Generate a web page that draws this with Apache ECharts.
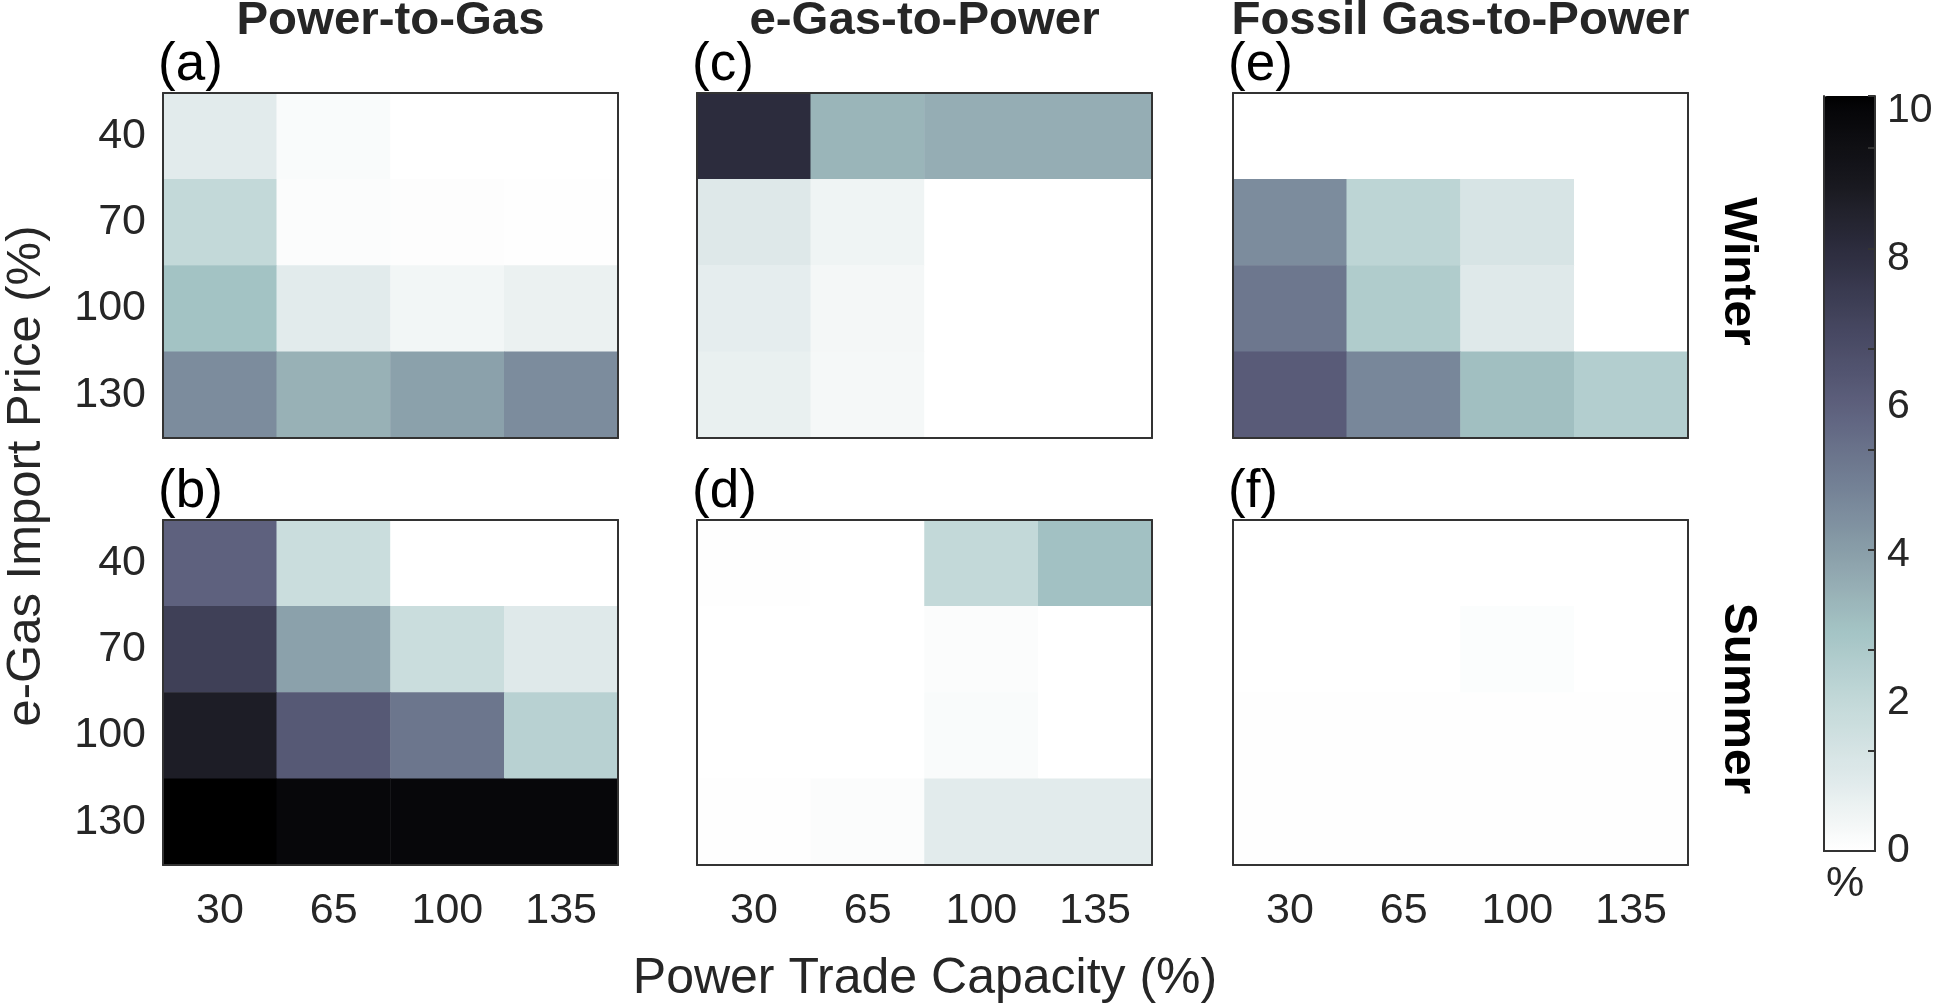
<!DOCTYPE html>
<html>
<head>
<meta charset="utf-8">
<script src="https://cdn.jsdelivr.net/npm/echarts@6/dist/echarts.min.js"></script>
<style>
html,body{margin:0;padding:0;background:#fff;}
#chart{width:1935px;height:1003px;}
</style>
</head>
<body>
<div id="chart"></div>
<script>
// ---------------- DATA ----------------
const capacities = ['30', '65', '100', '135'];      // Power Trade Capacity (%)
const prices = ['40', '70', '100', '130'];          // e-Gas Import Price (%)
const columnTitles = ['Power-to-Gas', 'e-Gas-to-Power', 'Fossil Gas-to-Power'];
const seasons = ['Winter', 'Summer'];
const panelLetters = ['(a)', '(b)', '(c)', '(d)', '(e)', '(f)'];
const colorbarLabels = [0, 2, 4, 6, 8, 10];
const colorMax = 10.2;

// rows = prices (40,70,100,130), columns = capacities (30,65,100,135)
const p2gWinter = [
  [0.9, 0.2, 0, 0],
  [2.0, 0.15, 0.08, 0.05],
  [3.0, 0.9, 0.4, 0.65],
  [4.6, 3.5, 3.95, 4.6]
];
const p2gSummer = [
  [5.95, 1.75, 0, 0],
  [7.35, 3.95, 1.75, 1.0],
  [8.8, 6.3, 5.3, 2.35],
  [10.2, 9.95, 9.95, 9.95]
];
const e2pWinter = [
  [8.15, 3.4, 3.6, 3.6],
  [1.05, 0.5, 0, 0],
  [0.8, 0.35, 0, 0],
  [0.7, 0.3, 0, 0]
];
const e2pSummer = [
  [0.05, 0, 2.0, 3.05],
  [0, 0, 0.15, 0],
  [0, 0, 0.2, 0],
  [0.05, 0.15, 0.9, 0.9]
];
const fossilWinter = [
  [0, 0, 0, 0],
  [4.6, 2.2, 1.3, 0],
  [5.25, 2.6, 1.0, 0],
  [6.2, 4.75, 3.1, 2.5]
];
const fossilSummer = [
  [0, 0, 0, 0],
  [0, 0, 0.12, 0],
  [0.04, 0.04, 0.05, 0.03],
  [0.04, 0.04, 0.04, 0.03]
];

// panel order: a,b,c,d,e,f  (column-major: col 0 winter, col 0 summer, ...)
const panelData = [p2gWinter, p2gSummer, e2pWinter, e2pSummer, fossilWinter, fossilSummer];

// ---------------- STYLE ----------------
const FONT = "'Liberation Sans', Arial, Helvetica, sans-serif";
const TXT = '#262626';
const LINE = '#333333';
const colLeft = [163, 697, 1233];
const rowTop = [93, 520];
const PW = 455, PH = 345;
const CB = { left: 1824, top: 96, width: 51, height: 755 };

// colormap stops (value -> colour)
const cmapStops = [
  [0, '#ffffff'], [0.5, '#eff4f4'], [1, '#dfe9ea'], [2, '#c3d9d9'], [3, '#a3c3c4'],
  [3.5, '#98b1b6'], [4, '#8a9faa'], [5, '#727f94'], [6, '#5d607d'], [7, '#474862'],
  [8, '#2f2f42'], [9, '#19191f'], [10, '#060609'], [10.2, '#000000']
];
function hex2rgb(h) { return [1, 3, 5].map(i => parseInt(h.substr(i, 2), 16)); }
function cmap(v) {
  for (let i = 1; i < cmapStops.length; i++) {
    const [v0, c0] = cmapStops[i - 1], [v1, c1] = cmapStops[i];
    if (v <= v1) {
      const t = (v - v0) / (v1 - v0);
      const a = hex2rgb(c0), b = hex2rgb(c1);
      return 'rgb(' + a.map((x, k) => Math.round(x + (b[k] - x) * t)).join(',') + ')';
    }
  }
  return cmapStops[cmapStops.length - 1][1];
}
const vmColors = [];
for (let i = 0; i <= 102; i++) vmColors.push(cmap(colorMax * i / 102));

// ---------------- BUILD ----------------
const grid = [], xAxis = [], yAxis = [], series = [];
const lineStyle = { show: true, lineStyle: { color: LINE, width: 2 } };

panelData.forEach((vals, p) => {
  const col = Math.floor(p / 2), row = p % 2;
  grid.push({ left: colLeft[col], top: rowTop[row], width: PW, height: PH, outerBoundsMode: 'none' });
  const xi = xAxis.length, yi = yAxis.length;
  xAxis.push({
    gridIndex: p, type: 'category', data: capacities, position: 'bottom', z: 10,
    axisLine: lineStyle, axisTick: { show: false }, splitLine: { show: false },
    axisLabel: { show: row === 1, fontSize: 43, fontFamily: FONT, color: TXT, margin: 25 }
  });
  xAxis.push({
    gridIndex: p, type: 'category', data: capacities, position: 'top', z: 10,
    axisLine: lineStyle, axisTick: { show: false }, splitLine: { show: false }, axisLabel: { show: false }
  });
  yAxis.push({
    gridIndex: p, type: 'category', data: prices, inverse: true, position: 'left', z: 10,
    axisLine: lineStyle, axisTick: { show: false }, splitLine: { show: false },
    axisLabel: { show: col === 0, fontSize: 43, fontFamily: FONT, color: TXT, margin: 17 }
  });
  yAxis.push({
    gridIndex: p, type: 'category', data: prices, inverse: true, position: 'right', z: 10,
    axisLine: lineStyle, axisTick: { show: false }, splitLine: { show: false }, axisLabel: { show: false }
  });
  const data = [];
  vals.forEach((r, ri) => r.forEach((v, ci) => data.push([ci, ri, v])));
  series.push({
    type: 'heatmap', xAxisIndex: xi, yAxisIndex: yi, data: data,
    itemStyle: { borderWidth: 0 }, emphasis: { disabled: true }, silent: true,
    progressive: 0
  });
});

// colour-bar frame / labels
const cbGrid = grid.length;
grid.push({ left: CB.left, top: CB.top, width: CB.width, height: CB.height, outerBoundsMode: 'none' });
['bottom', 'top'].forEach(pos => xAxis.push({
  gridIndex: cbGrid, type: 'category', data: [''], position: pos, z: 10,
  axisLine: lineStyle, axisTick: { show: false }, axisLabel: { show: false }, splitLine: { show: false }
}));
yAxis.push({
  gridIndex: cbGrid, type: 'value', min: 0, max: colorMax, position: 'left', z: 10,
  axisLine: lineStyle, axisTick: { show: false }, axisLabel: { show: false }, splitLine: { show: false }
});
yAxis.push({
  gridIndex: cbGrid, type: 'value', min: 0, max: colorMax, interval: 2, position: 'right', z: 10,
  axisLine: lineStyle, axisTick: { show: false }, splitLine: { show: false },
  axisLabel: {
    fontSize: 41, fontFamily: FONT, color: TXT, margin: 12, showMaxLabel: true,
    formatter: v => (colorbarLabels.indexOf(v) >= 0 ? String(v) : '')
  }
});
yAxis.push({
  gridIndex: cbGrid, type: 'value', min: 0, max: 7.52, interval: 1, position: 'right', z: 11,
  axisLine: { show: false }, axisLabel: { show: false }, splitLine: { show: false },
  axisTick: { show: true, inside: true, length: 7, lineStyle: { color: LINE, width: 2 } }
});

// free texts
const graphic = [];
function txt(text, x, y, size, opts) {
  opts = opts || {};
  graphic.push({
    type: 'text', x: x, y: y, rotation: opts.rotation || 0,
    scaleX: opts.scaleX || 1, scaleY: 1, silent: true, z: 20,
    style: {
      text: text, x: 0, y: 0, fill: opts.color || TXT,
      fontSize: size, fontFamily: FONT, fontWeight: opts.bold ? 'bold' : 'normal',
      align: opts.align || 'center', textAlign: opts.align || 'center',
      verticalAlign: 'middle', textVerticalAlign: 'middle'
    }
  });
}
columnTitles.forEach((t, c) => txt(t, colLeft[c] + PW / 2, 21, 46, { bold: true, scaleX: 1.03 }));
panelLetters.forEach((t, p) => {
  const col = Math.floor(p / 2), row = p % 2;
  txt(t, colLeft[col] - 5, rowTop[row] - 28, 53, { align: 'left', color: '#000' });
});
seasons.forEach((s, r) => txt(s, 1738, rowTop[r] + PH / 2 + 6, 46, { bold: true, scaleX: 1.04, rotation: -Math.PI / 2, color: '#000' }));
txt('e-Gas Import Price (%)', 26, 476, 49, { rotation: Math.PI / 2 });
txt('Power Trade Capacity (%)', 925, 979, 50);
txt('%', 1845, 884, 43);

const option = {
  animation: false,
  backgroundColor: '#ffffff',
  textStyle: { fontFamily: FONT },
  grid: grid, xAxis: xAxis, yAxis: yAxis, series: series,
  visualMap: {
    type: 'continuous', min: 0, max: colorMax, calculable: false, orient: 'vertical',
    left: CB.left, top: CB.top, itemWidth: CB.width, itemHeight: CB.height, padding: 0,
    text: null, showLabel: false, hoverLink: false,
    seriesIndex: [0, 1, 2, 3, 4, 5],
    inRange: { color: vmColors }
  },
  graphic: graphic
};

const chart = echarts.init(document.getElementById('chart'), null, { renderer: 'canvas' });
chart.setOption(option);
</script>
</body>
</html>
